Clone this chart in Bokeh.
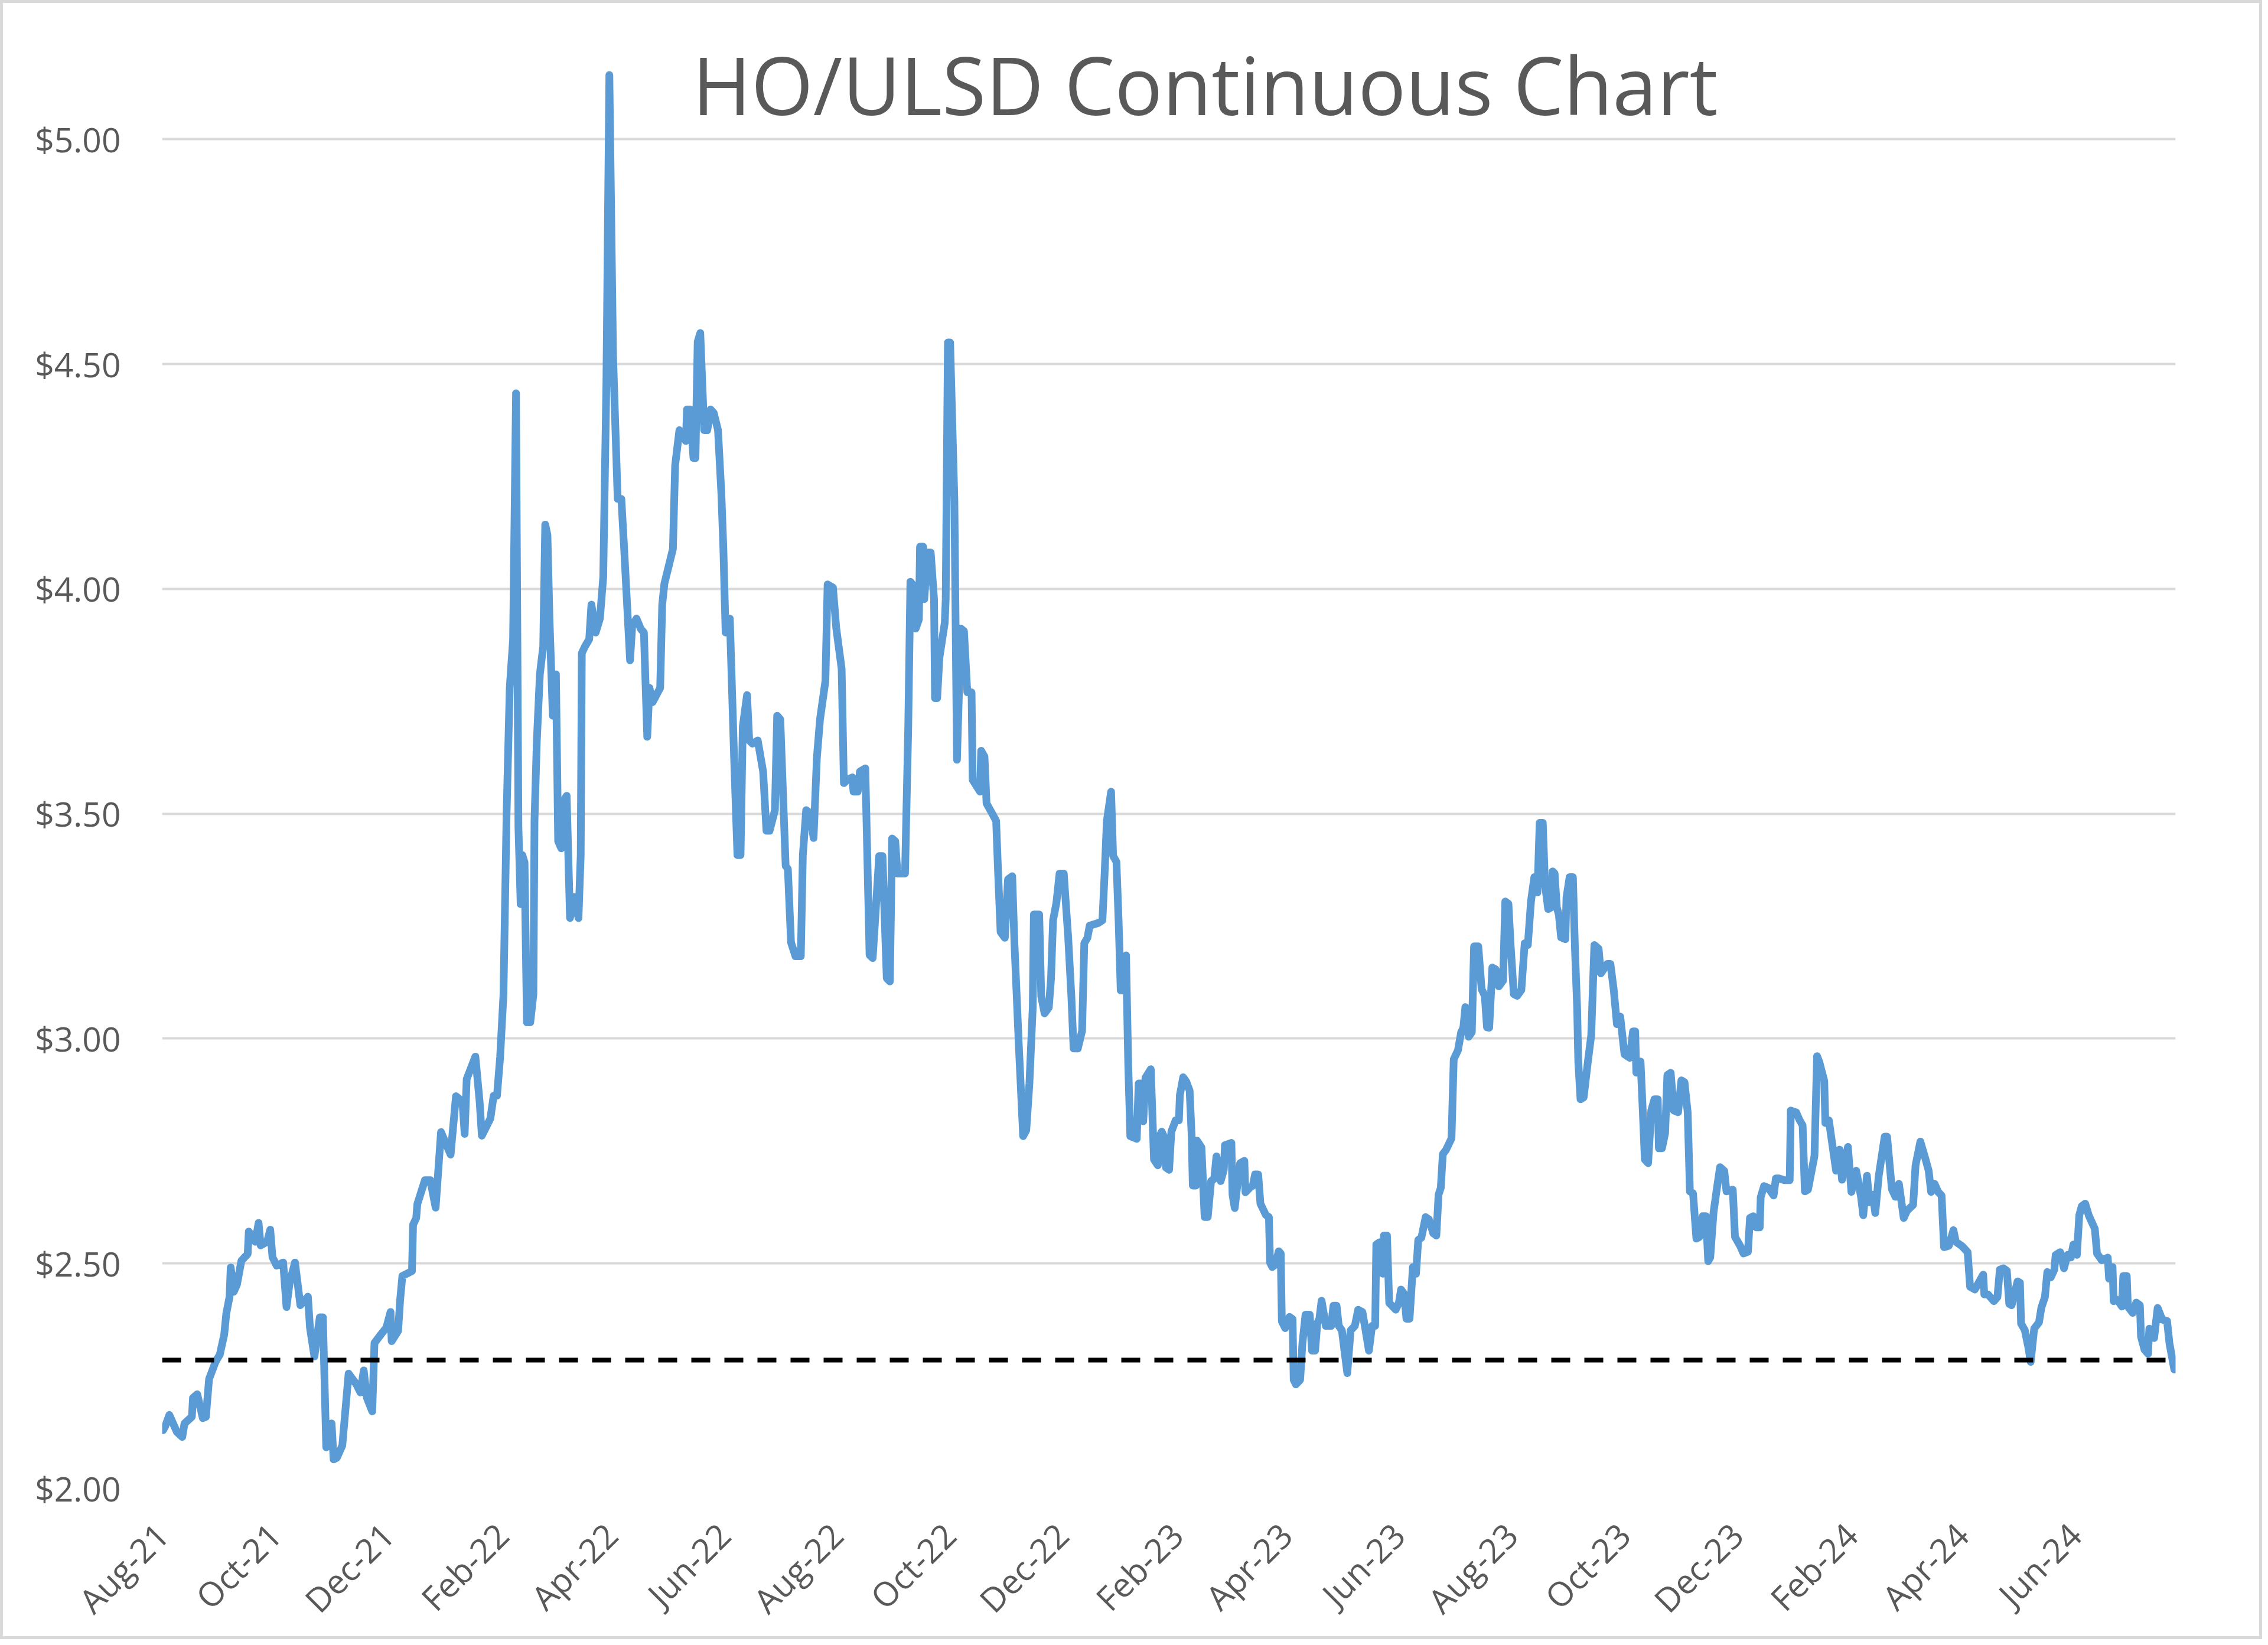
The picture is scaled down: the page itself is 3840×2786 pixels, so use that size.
import pandas as pd
from math import pi
from bokeh.plotting import figure
from bokeh.models import (ColumnDataSource, Range1d, FixedTicker, NumeralTickFormatter,
                          DatetimeTickFormatter, Span, Label)
from bokeh.embed import file_html
from bokeh.resources import INLINE

# ---------------- data ----------------
title_text = "HO/ULSD Continuous Chart"
start_date = "2021-08-01"          # day_offset 0
end_offset = 1089.5                 # right end of the date axis, days after start_date

day_offset = [
    0.5, 1.6, 3.9, 8.0, 10.9, 12.1, 16.1, 16.7, 19.0, 22.0, 23.7, 25.4, 28.9, 31.2, 33.6, 34.7,
    36.5, 37.1, 38.8, 40.5, 42.9, 46.3, 46.9, 50.4, 52.2, 53.3, 56.8, 58.5, 59.7, 62.0, 65.5, 67.3,
    69.0, 71.9, 74.8, 78.9, 80.0, 82.4, 85.3, 87.0, 88.8, 91.7, 92.8, 94.6, 97.5, 100.9, 105.0, 107.3,
    109.1, 110.8, 113.7, 114.9, 118.4, 121.3, 123.6, 124.2, 127.7, 128.8, 130.0, 135.2, 135.8, 137.5,
    138.1, 142.2, 145.1, 148.0, 150.9, 156.1, 159.0, 162.5, 163.7, 164.8, 169.5, 171.8, 173.0, 177.6,
    179.4, 181.2, 182.9, 184.7, 186.4, 188.1, 189.9, 191.5, 192.8, 194.0, 194.9, 196.1, 197.4, 199.2,
    200.9, 201.5, 202.7, 204.4, 206.2, 207.3, 208.5, 209.6, 211.4, 213.1, 214.3, 216.0, 217.8, 218.9,
    220.7, 223.0, 225.3, 226.5, 227.1, 228.8, 231.1, 232.3, 234.6, 236.9, 238.7, 240.4, 242.0, 244.0,
    246.5, 248.5, 250.0, 252.0, 253.2, 254.4, 256.7, 259.0, 260.7, 262.5, 263.7, 265.4, 269.5, 270.6,
    271.8, 276.4, 277.6, 279.9, 283.4, 284.0, 285.7, 287.5, 288.6, 289.8, 291.2, 293.3, 295.0, 296.8,
    298.5, 300.8, 302.6, 303.7, 304.9, 307.2, 309.5, 311.3, 313.0, 314.2, 316.5, 317.7, 319.4, 322.3,
    325.2, 327.0, 328.7, 331.6, 332.8, 334.5, 337.4, 338.6, 340.3, 342.7, 345.6, 346.7, 348.5, 350.8,
    352.5, 354.3, 356.0, 358.9, 360.1, 363.0, 364.8, 367.7, 368.9, 370.6, 373.5, 374.1, 376.4, 377.6,
    380.5, 382.8, 384.5, 388.0, 389.8, 392.1, 393.8, 395.0, 396.7, 397.9, 402.0, 403.7, 404.9, 406.0,
    407.8, 409.5, 410.1, 411.8, 412.4, 414.2, 415.9, 417.7, 418.2, 419.4, 420.6, 423.5, 424.0, 425.2,
    426.4, 428.7, 430.1, 432.2, 433.9, 435.7, 438.0, 438.6, 442.6, 443.2, 445.0, 446.1, 449.6, 451.3,
    452.5, 453.7, 456.0, 457.7, 460.0, 461.2, 463.5, 465.9, 467.6, 469.3, 471.1, 471.7, 474.6, 475.7,
    477.5, 479.8, 481.0, 482.1, 483.9, 485.6, 487.9, 490.3, 492.0, 493.2, 495.5, 497.8, 499.0, 500.7,
    501.9, 506.5, 508.8, 510.0, 511.2, 513.5, 514.6, 516.4, 517.6, 518.7, 520.5, 521.6, 522.8, 523.9,
    527.4, 528.4, 529.8, 530.9, 532.1, 535.0, 536.7, 538.8, 539.7, 540.9, 542.0, 543.2, 544.9, 546.1,
    548.4, 550.2, 550.7, 552.5, 554.2, 556.0, 557.1, 557.7, 559.4, 560.0, 562.4, 564.1, 565.8, 567.6,
    569.3, 570.5, 572.8, 574.5, 575.1, 578.6, 579.2, 580.4, 581.5, 583.3, 585.6, 586.2, 588.5, 590.2,
    591.4, 593.1, 594.3, 597.2, 598.9, 599.5, 600.7, 602.4, 604.2, 605.3, 605.9, 607.7, 610.0, 611.7,
    612.3, 613.5, 615.8, 617.0, 618.7, 621.0, 622.2, 623.9, 625.1, 626.2, 627.4, 629.7, 632.6, 633.8,
    635.5, 636.7, 638.4, 639.6, 641.3, 643.1, 645.4, 647.2, 649.5, 651.2, 653.0, 654.7, 656.4, 657.0,
    658.8, 660.5, 661.1, 662.8, 664.0, 665.2, 667.5, 669.2, 670.4, 672.1, 673.3, 675.0, 676.8, 678.5,
    679.7, 681.4, 683.7, 685.5, 687.8, 689.5, 690.7, 691.9, 693.0, 694.8, 697.7, 698.9, 701.2, 702.9,
    704.1, 705.2, 707.0, 708.7, 709.9, 712.2, 714.0, 715.7, 716.9, 718.1, 719.8, 721.6, 723.3, 725.6,
    726.8, 728.5, 729.7, 731.4, 733.2, 735.5, 737.3, 739.0, 740.7, 742.5, 744.2, 745.4, 747.1, 748.3,
    750.0, 751.8, 752.4, 753.5, 754.7, 755.8, 757.0, 759.3, 759.9, 761.6, 763.4, 764.5, 765.7, 766.3,
    767.5, 769.2, 771.5, 773.3, 775.0, 777.3, 778.5, 782.0, 783.7, 785.5, 787.2, 789.0, 791.3, 794.2,
    795.9, 797.1, 797.7, 800.0, 801.1, 802.3, 804.1, 805.8, 807.5, 809.3, 809.9, 811.6, 813.3, 814.5,
    816.3, 818.0, 820.3, 822.1, 823.8, 825.5, 826.7, 828.4, 830.2, 831.9, 833.7, 835.4, 836.6, 837.7,
    839.5, 841.2, 843.0, 845.3, 846.5, 849.9, 851.1, 854.0, 855.7, 858.1, 859.2, 861.0, 862.7, 864.5,
    865.0, 866.8, 869.1, 872.0, 873.2, 874.9, 877.8, 880.7, 881.3, 884.2, 886.0, 887.7, 888.9, 890.6,
    894.1, 895.5, 896.8, 899.4, 900.0, 901.9, 905.8, 907.7, 909.0, 912.2, 914.1, 916.7, 919.3, 920.5,
    922.5, 923.8, 925.7, 927.0, 928.9, 932.1, 933.4, 936.0, 937.9, 939.8, 942.4, 944.3, 947.5, 948.8,
    951.4, 953.9, 955.9, 957.2, 959.1, 961.0, 962.9, 964.2, 966.8, 969.3, 970.6, 973.8, 977.0, 978.3,
    980.9, 985.4, 986.0, 988.0, 991.2, 993.1, 994.4, 996.3, 998.2, 999.5, 1000.8, 1004.0, 1005.3, 1005.9,
    1007.9, 1009.8, 1011.1, 1013.0, 1015.6, 1016.9, 1018.8, 1020.1, 1022.0, 1023.9, 1024.6, 1027.1,
    1029.1, 1031.0, 1032.9, 1034.2, 1036.1, 1037.4, 1038.7, 1040.6, 1042.5, 1045.8, 1047.0, 1049.6,
    1052.8, 1053.5, 1055.4, 1056.0, 1058.0, 1060.5, 1061.2, 1063.1, 1063.7, 1066.3, 1068.2, 1070.2,
    1070.8, 1072.7, 1074.6, 1075.3, 1077.9, 1079.8, 1082.3, 1084.9, 1086.2, 1087.5, 1088.8,
]

price = [
    2.129, 2.137, 2.163, 2.125, 2.114, 2.144, 2.159, 2.201, 2.209, 2.156, 2.159, 2.243, 2.281, 2.297, 2.342, 2.388,
    2.426, 2.491, 2.437, 2.453, 2.506, 2.521, 2.571, 2.548, 2.590, 2.540, 2.548, 2.575, 2.514, 2.495, 2.502, 2.403,
    2.457, 2.502, 2.407, 2.426, 2.357, 2.293, 2.380, 2.380, 2.091, 2.144, 2.064, 2.068, 2.095, 2.255, 2.232, 2.213,
    2.262, 2.201, 2.171, 2.323, 2.342, 2.357, 2.392, 2.327, 2.350, 2.419, 2.472, 2.483, 2.586, 2.601,
    2.632, 2.685, 2.685, 2.624, 2.792, 2.742, 2.872, 2.860, 2.788, 2.910, 2.960, 2.860, 2.784, 2.822,
    2.873, 2.873, 2.959, 3.098, 3.501, 3.780, 3.888, 4.435, 3.470, 3.299, 3.408, 3.392, 3.036, 3.036,
    3.098, 3.485, 3.656, 3.810, 3.872, 4.143, 4.120, 3.934, 3.718, 3.810, 3.439, 3.423, 3.532, 3.540,
    3.268, 3.315, 3.268, 3.408, 3.857, 3.872, 3.888, 3.965, 3.903, 3.934, 4.027, 4.461, 5.143, 4.520,
    4.200, 4.200, 4.090, 3.934, 3.841, 3.919, 3.934, 3.911, 3.903, 3.671, 3.780, 3.748, 3.780, 3.965,
    4.012, 4.089, 4.275, 4.353, 4.329, 4.399, 4.399, 4.291, 4.291, 4.550, 4.569, 4.353, 4.353, 4.399,
    4.391, 4.353, 4.213, 4.089, 3.903, 3.934, 3.625, 3.408, 3.408, 3.694, 3.764, 3.663, 3.656, 3.663,
    3.594, 3.462, 3.462, 3.508, 3.718, 3.710, 3.384, 3.377, 3.214, 3.183, 3.183, 3.408, 3.508, 3.501,
    3.446, 3.625, 3.710, 3.795, 4.010, 4.003, 3.912, 3.822, 3.568, 3.575, 3.581, 3.549, 3.549, 3.594,
    3.601, 3.186, 3.179, 3.406, 3.406, 3.134, 3.127, 3.445, 3.439, 3.367, 3.367, 3.685, 4.016, 4.010,
    3.912, 3.932, 4.094, 4.094, 3.977, 4.081, 4.081, 3.977, 3.757, 3.757, 3.847, 3.925, 3.977, 4.548,
    4.548, 4.198, 3.620, 3.912, 3.906, 3.770, 3.770, 3.575, 3.549, 3.640, 3.627, 3.523, 3.497, 3.484,
    3.354, 3.237, 3.224, 3.354, 3.361, 3.212, 2.991, 2.783, 2.796, 2.900, 3.069, 3.276, 3.276, 3.094,
    3.056, 3.069, 3.134, 3.263, 3.302, 3.367, 3.367, 3.224, 3.094, 2.978, 2.978, 3.017, 3.212, 3.224,
    3.251, 3.257, 3.263, 3.367, 3.484, 3.549, 3.406, 3.393, 3.257, 3.107, 3.107, 3.185, 2.939, 2.783,
    2.777, 2.900, 2.900, 2.816, 2.913, 2.932, 2.731, 2.718, 2.783, 2.793, 2.783, 2.713, 2.708, 2.793,
    2.818, 2.818, 2.874, 2.914, 2.904, 2.884, 2.783, 2.673, 2.673, 2.773, 2.758, 2.603, 2.603, 2.683,
    2.688, 2.738, 2.683, 2.708, 2.763, 2.768, 2.653, 2.623, 2.663, 2.723, 2.728, 2.658, 2.668, 2.673,
    2.698, 2.698, 2.633, 2.608, 2.603, 2.502, 2.492, 2.497, 2.527, 2.522, 2.371, 2.356, 2.381, 2.376,
    2.241, 2.231, 2.241, 2.321, 2.386, 2.386, 2.306, 2.306, 2.367, 2.377, 2.417, 2.361, 2.361, 2.406,
    2.406, 2.361, 2.351, 2.311, 2.256, 2.351, 2.361, 2.397, 2.392, 2.351, 2.306, 2.361, 2.361, 2.542,
    2.547, 2.477, 2.562, 2.562, 2.412, 2.407, 2.397, 2.412, 2.442, 2.432, 2.377, 2.377, 2.492, 2.477,
    2.552, 2.557, 2.603, 2.598, 2.567, 2.562, 2.653, 2.668, 2.743, 2.753, 2.778, 2.954, 2.974, 3.014,
    3.024, 3.070, 3.004, 3.014, 3.205, 3.205, 3.110, 3.095, 3.025, 3.024, 3.158, 3.154, 3.116, 3.129,
    3.305, 3.300, 3.208, 3.099, 3.095, 3.108, 3.212, 3.208, 3.305, 3.359, 3.325, 3.480, 3.480, 3.342,
    3.288, 3.292, 3.372, 3.367, 3.292, 3.275, 3.225, 3.221, 3.313, 3.359, 3.359, 3.200, 3.066, 2.949,
    2.865, 2.869, 2.949, 3.007, 3.208, 3.200, 3.145, 3.166, 3.166, 3.108, 3.032, 3.049, 2.965, 2.957,
    3.016, 3.016, 2.924, 2.949, 2.848, 2.731, 2.723, 2.840, 2.865, 2.865, 2.756, 2.756, 2.790, 2.919,
    2.924, 2.840, 2.836, 2.907, 2.903, 2.836, 2.660, 2.656, 2.555, 2.559, 2.605, 2.605, 2.505, 2.513,
    2.614, 2.664, 2.714, 2.706, 2.660, 2.664, 2.559, 2.538, 2.522, 2.526, 2.601, 2.605, 2.580, 2.580,
    2.647, 2.672, 2.668, 2.651, 2.689, 2.689, 2.685, 2.685, 2.840, 2.836, 2.819, 2.807, 2.660, 2.664,
    2.739, 2.961, 2.947, 2.906, 2.812, 2.818, 2.706, 2.753, 2.686, 2.759, 2.659, 2.706, 2.648, 2.607,
    2.695, 2.636, 2.653, 2.612, 2.695, 2.782, 2.782, 2.665, 2.648, 2.677, 2.601, 2.618, 2.630, 2.718,
    2.771, 2.736, 2.706, 2.659, 2.677, 2.659, 2.651, 2.536, 2.539, 2.574, 2.548, 2.539, 2.525, 2.448,
    2.442, 2.475, 2.431, 2.431, 2.416, 2.425, 2.486, 2.489, 2.484, 2.410, 2.407, 2.460, 2.457, 2.366,
    2.352, 2.314, 2.281, 2.355, 2.369, 2.402, 2.425, 2.481, 2.469, 2.486, 2.519, 2.525,
    2.489, 2.519, 2.513, 2.542, 2.519, 2.607, 2.627, 2.633, 2.607, 2.577, 2.522, 2.507,
    2.513, 2.466, 2.492, 2.416, 2.419, 2.404, 2.472, 2.472, 2.404, 2.390, 2.413, 2.407,
    2.337, 2.308, 2.299, 2.355, 2.334, 2.401, 2.375, 2.372, 2.322, 2.293, 2.264,
]

x_tick_dates = ["2021-08-01", "2021-10-01", "2021-12-01", "2022-02-01", "2022-04-01", "2022-06-01",
                "2022-08-01", "2022-10-01", "2022-12-01", "2023-02-01", "2023-04-01", "2023-06-01",
                "2023-08-01", "2023-10-01", "2023-12-01", "2024-02-01", "2024-04-01", "2024-06-01"]
y_ticks = [2.0, 2.5, 3.0, 3.5, 4.0, 4.5, 5.0]
y_min, y_max = 2.0, 5.2
reference_level = 2.285

# ---------------- figure ----------------
FONT = "Open Sans"
TXT = "#595959"

start = pd.Timestamp(start_date)
dates = start + pd.to_timedelta(day_offset, unit="D")
src = ColumnDataSource(dict(date=dates, price=price))

p = figure(width=3830, height=2776, x_axis_type="datetime",
           x_range=Range1d(start, start + pd.Timedelta(days=end_offset)),
           y_range=Range1d(y_min, y_max),
           output_backend="svg", toolbar_location=None,
           min_border_left=269, min_border_right=152, min_border_top=78, min_border_bottom=261)
p.styles = {"border": "5px solid #D9D9D9"}
p.title.visible = False
p.outline_line_color = None
p.background_fill_color = "white"
p.border_fill_color = "white"

p.xgrid.visible = False
p.ygrid.grid_line_color = "#D9D9D9"
p.ygrid.grid_line_width = 4

p.yaxis.ticker = FixedTicker(ticks=y_ticks)
p.yaxis.formatter = NumeralTickFormatter(format="$0.00")
p.xaxis.ticker = FixedTicker(ticks=[pd.Timestamp(d).value / 1e6 for d in x_tick_dates])
fmt = "%b-%y"
p.xaxis.formatter = DatetimeTickFormatter(microseconds=fmt, milliseconds=fmt, seconds=fmt, minsec=fmt,
                                          minutes=fmt, hourmin=fmt, hours=fmt, days=fmt,
                                          months=fmt, years=fmt)
p.xaxis.major_label_orientation = pi / 4

for ax in (p.xaxis[0], p.yaxis[0]):
    ax.axis_line_color = None
    ax.major_tick_line_color = None
    ax.minor_tick_line_color = None
    ax.major_label_text_font = FONT
    ax.major_label_text_font_size = "57px"
    ax.major_label_text_color = TXT
p.yaxis.major_label_standoff = 64
p.xaxis.major_label_standoff = 63

p.line("date", "price", source=src, line_color="#5B9BD5", line_width=13,
       line_join="round", line_cap="round")

p.add_layout(Span(location=reference_level, dimension="width", line_color="black",
                  line_width=8, line_dash="32 24"))

p.add_layout(Label(x=1766, y=2378, x_units="screen", y_units="screen", text=title_text,
                   text_font=FONT, text_font_size="135px", text_color=TXT,
                   text_align="center", text_baseline="alphabetic"))

open("out.html", "w").write(file_html(p, INLINE))
